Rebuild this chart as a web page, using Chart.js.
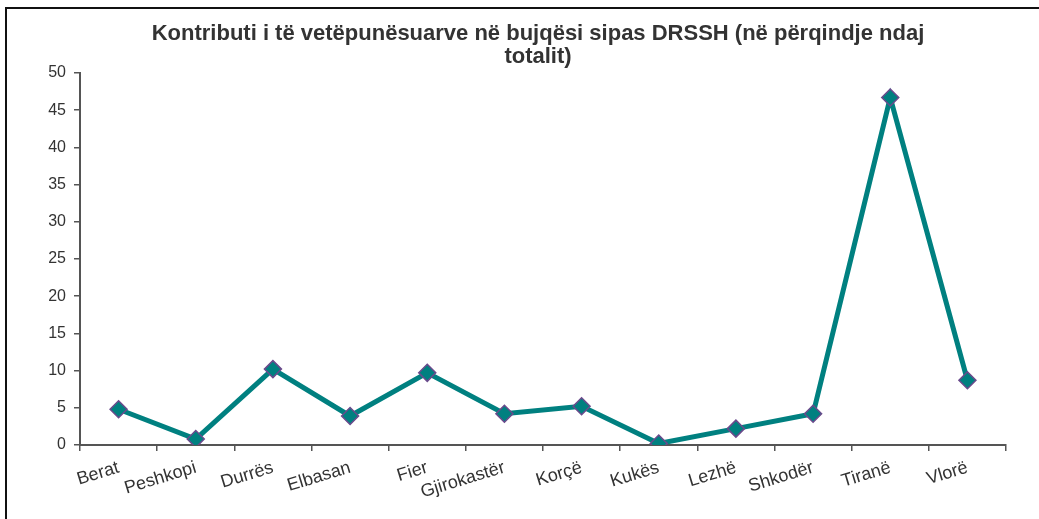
<!DOCTYPE html>
<html>
<head>
<meta charset="utf-8">
<script src="https://cdn.jsdelivr.net/npm/chart.js@4/dist/chart.umd.min.js"></script>
<style>
  html, body { margin: 0; padding: 0; background: #fff; overflow: hidden; }
  #wrap { position: relative; width: 1039px; height: 519px; }
  #frame { position: absolute; left: 5px; top: 7px; width: 1040px; height: 520px;
           border-top: 2px solid #111; border-left: 2px solid #111; pointer-events: none; }
  canvas { position: absolute; left: 0; top: 0; }
</style>
</head>
<body>
<div id="wrap">
  <canvas id="c" width="1039" height="519"></canvas>
  <div id="frame"></div>
</div>
<script>
const categories = ["Berat", "Peshkopi", "Durrës", "Elbasan", "Fier", "Gjirokastër", "Korçë", "Kukës", "Lezhë", "Shkodër", "Tiranë", "Vlorë"];
const values = [4.8, 0.8, 10.2, 3.9, 9.7, 4.2, 5.2, 0.2, 2.2, 4.2, 46.7, 8.7];
const titleLines = ["Kontributi i të vetëpunësuarve në bujqësi sipas DRSSH (në përqindje ndaj", "totalit)"];
const yTicks = [0, 5, 10, 15, 20, 25, 30, 35, 40, 45, 50];

const titlePlugin = {
  id: 'customTitle',
  afterDraw(chart) {
    const ctx = chart.ctx;
    const cx = 538;
    ctx.save();
    ctx.font = 'bold 22px "Liberation Sans", Arial, sans-serif';
    ctx.fillStyle = '#333333';
    ctx.textAlign = 'center';
    ctx.textBaseline = 'alphabetic';
    ctx.fillText(titleLines[0], cx, 40);
    ctx.fillText(titleLines[1], cx, 63);
    ctx.restore();
  }
};

new Chart(document.getElementById('c'), {
  type: 'line',
  data: {
    labels: categories,
    datasets: [{
      data: values,
      borderColor: '#008080',
      borderWidth: 5,
      backgroundColor: '#008080',
      pointStyle: 'rectRot',
      pointRadius: 8.5,
      pointHoverRadius: 8.5,
      pointBackgroundColor: '#008080',
      pointBorderColor: '#6a4a8c',
      pointBorderWidth: 1.5,
      tension: 0,
      fill: false
    }]
  },
  options: {
    responsive: false,
    animation: false,
    layout: { padding: { left: 0, right: 33, top: 73, bottom: 0 } },
    plugins: { legend: { display: false }, title: { display: false }, tooltip: { enabled: false } },
    scales: {
      x: {
        type: 'category',
        offset: true,
        grid: { offset: true, drawOnChartArea: false, drawTicks: true, tickLength: 6, color: '#555', lineWidth: 1.5 },
        border: { color: '#555', width: 2 },
        ticks: {
          color: '#333',
          font: { family: '"Liberation Sans", Arial, sans-serif', size: 18 },
          minRotation: 17, maxRotation: 17, autoSkip: false, padding: 6
        },
        afterFit(scale) { scale.height = 74; }
      },
      y: {
        min: 0, max: 50,
        afterBuildTicks(scale) { scale.ticks = yTicks.map(v => ({ value: v })); },
        grid: { drawOnChartArea: false, drawTicks: true, tickLength: 6, color: '#555', lineWidth: 1.5 },
        border: { color: '#555', width: 2 },
        ticks: {
          color: '#333',
          font: { family: '"Liberation Sans", Arial, sans-serif', size: 16 },
          padding: 8
        },
        afterFit(scale) { scale.width = 80; }
      }
    }
  },
  plugins: [titlePlugin]
});
</script>
</body>
</html>
